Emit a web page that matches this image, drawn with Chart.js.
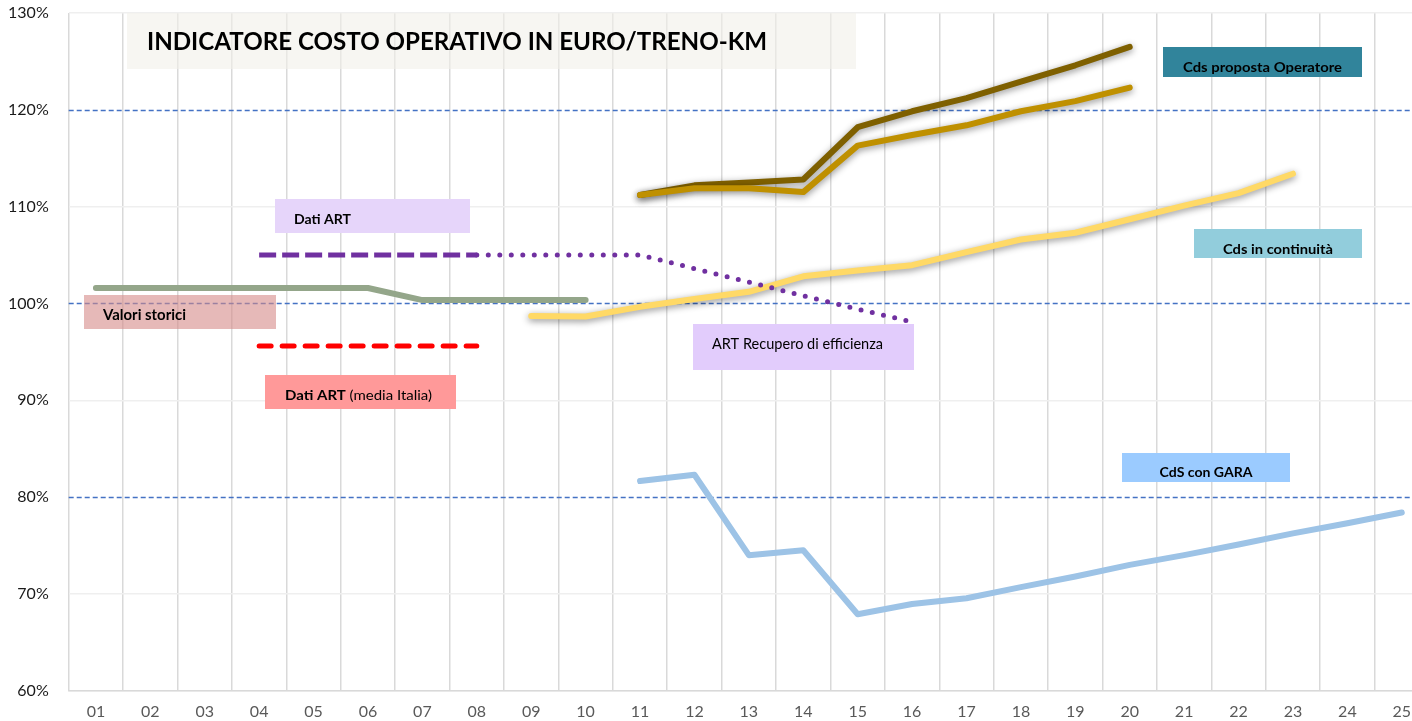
<!DOCTYPE html>
<html lang="it">
<head>
    <meta charset="UTF-8">
    <title>Indicatore costo operativo</title>
    <script src="https://cdn.jsdelivr.net/npm/chart.js"></script>
    <style>
        html, body { margin: 0; padding: 0; background: #fff; overflow: hidden; }
        .chart-box { width: 1429px; height: 721px; }
    </style>
</head>
<body>
    <div class="chart-box">
        <canvas id="costChart"></canvas>
    </div>

    <script>
        // anni (categorie)
        const years = ['01','02','03','04','05','06','07','08','09','10','11','12','13',
                       '14','15','16','17','18','19','20','21','22','23','24','25'];

        // valori in % (null = nessun dato)
        const storici    = [101.6, 101.6, 101.6, 101.6, 101.6, 101.6, 100.35, 100.35, 100.35, 100.35,
                            null, null, null, null, null, null, null, null, null, null, null, null, null, null, null];
        const datiArt    = [null, null, null, 105, 105, 105, 105, 105,
                            null, null, null, null, null, null, null, null, null, null, null, null, null, null, null, null, null];
        const artRecup   = [null, null, null, null, null, null, null, 105, 105, 105, 105, 103.6, 102.2, 100.8, 99.4, 98.1,
                            null, null, null, null, null, null, null, null, null];
        const artMedia   = [null, null, null, 95.6, 95.6, 95.6, 95.6, 95.6,
                            null, null, null, null, null, null, null, null, null, null, null, null, null, null, null, null, null];
        const operatore  = [null, null, null, null, null, null, null, null, null, null,
                            111.2, 112.2, 112.5, 112.8, 118.2, 119.85, 121.2, 122.9, 124.6, 126.5, null, null, null, null, null];
        const operatore2 = [null, null, null, null, null, null, null, null, null, null,
                            111.2, 111.9, 111.9, 111.5, 116.3, 117.4, 118.4, 119.85, 120.9, 122.3, null, null, null, null, null];
        const continuita = [null, null, null, null, null, null, null, null, 98.7, 98.65, 99.65, 100.45, 101.2, 102.8,
                            103.4, 103.95, 105.3, 106.6, 107.3, 108.7, 110.1, 111.4, 113.4, null, null];
        const gara       = [null, null, null, null, null, null, null, null, null, null,
                            81.65, 82.3, 74.0, 74.5, 67.9, 68.95, 69.55, 70.7, 71.8, 73.0, 74.0, 75.1, 76.25, 77.3, 78.4];

        const dashedTicks = [80, 100, 120];

        // riquadri di testo
        const notes = [
            { parts: [['INDICATORE COSTO OPERATIVO IN EURO/TRENO-KM', true]], box: [127, 13, 856, 69], fill: 'rgba(242,240,233,0.6)', tx: 147, ty: 42, w: 620, size: 25 },
            { parts: [['Cds proposta Operatore', true]], box: [1163, 47, 1362, 77], fill: '#31849B', tx: 'center', ty: 67, w: 159, size: 14 },
            { parts: [['Cds in continuità', true]], box: [1194, 229, 1362, 258], fill: '#92CDDC', tx: 'center', ty: 249, w: 110, size: 14 },
            { parts: [['CdS con GARA', true]], box: [1122, 453, 1290, 482], fill: '#9BCBFF', tx: 'center', ty: 472, w: 93, size: 14 },
            { parts: [['Dati ART', true]], box: [275, 199, 470, 233], fill: '#E6D5FA', tx: 294, ty: 219, w: 57, size: 14 },
            { parts: [['Valori storici', true]], box: [84, 295, 276, 329], fill: 'rgba(213,138,137,0.6)', tx: 103, ty: 315, w: 83, size: 15 },
            { parts: [['Dati ART', true], [' (media Italia)', false]], box: [265, 375, 456, 409], fill: '#FF9999', tx: 285, ty: 395, w: 147, size: 14 },
            { parts: [['ART Recupero di efficienza', false]], box: [693, 324, 914, 370], fill: '#E2CCFC', tx: 712, ty: 344, w: 171, size: 15 }
        ];

        const fontName = 'Lato, "Open Sans", sans-serif';

        const notesPlugin = {
            id: 'notes',
            beforeDatasetsDraw(chart) {
                const ctx = chart.ctx;
                const y = chart.scales.y;
                const area = chart.chartArea;

                // linee tratteggiate blu
                ctx.save();
                ctx.strokeStyle = '#4472C4';
                ctx.lineWidth = 1.5;
                ctx.setLineDash([5, 3]);
                dashedTicks.forEach(v => {
                    const py = Math.round(y.getPixelForValue(v)) + 0.5;
                    ctx.beginPath();
                    ctx.moveTo(area.left, py);
                    ctx.lineTo(area.right, py);
                    ctx.stroke();
                });
                ctx.restore();

                notes.forEach(n => {
                    const [x1, y1, x2, y2] = n.box;
                    ctx.save();
                    ctx.fillStyle = n.fill;
                    ctx.fillRect(x1, y1, x2 - x1, y2 - y1);

                    // larghezza naturale del testo, poi compressione orizzontale
                    let total = 0;
                    n.parts.forEach(p => {
                        ctx.font = (p[1] ? 'bold ' : '') + n.size + 'px ' + fontName;
                        total += ctx.measureText(p[0]).width;
                    });
                    const sx = n.w / total;
                    const left = n.tx === 'center' ? (x1 + x2) / 2 - n.w / 2 : n.tx;
                    ctx.translate(left, n.ty);
                    ctx.scale(sx, 1);
                    ctx.fillStyle = '#000';
                    ctx.textBaseline = 'middle';
                    ctx.textAlign = 'left';
                    let x = 0;
                    n.parts.forEach(p => {
                        ctx.font = (p[1] ? 'bold ' : '') + n.size + 'px ' + fontName;
                        ctx.fillText(p[0], x, 0);
                        x += ctx.measureText(p[0]).width;
                    });
                    ctx.restore();
                });
            },
            beforeDatasetDraw(chart, args) {
                const ds = chart.data.datasets[args.index];
                if (ds.shadow) {
                    const ctx = chart.ctx;
                    ctx.save();
                    ctx.shadowColor = 'rgba(0,0,0,0.45)';
                    ctx.shadowBlur = 7;
                    ctx.shadowOffsetX = 0;
                    ctx.shadowOffsetY = 2;
                }
            },
            afterDatasetDraw(chart, args) {
                const ds = chart.data.datasets[args.index];
                if (ds.shadow) chart.ctx.restore();
            }
        };

        function line(label, data, color, width, extra) {
            return Object.assign({
                label, data,
                borderColor: color,
                borderWidth: width,
                pointRadius: 0,
                tension: 0,
                fill: false,
                spanGaps: false,
                borderJoinStyle: 'round',
                borderCapStyle: 'round'
            }, extra || {});
        }

        new Chart(document.getElementById('costChart').getContext('2d'), {
            type: 'line',
            data: {
                labels: years,
                datasets: [
                    line('Valori storici', storici, '#94A68A', 6),
                    line('Dati ART (media Italia)', artMedia, '#FF0000', 5, { borderDash: [12, 11] }),
                    line('Dati ART', datiArt, '#7030A0', 5, { borderDash: [17, 6], borderCapStyle: 'butt' }),
                    line('ART Recupero di efficienza', artRecup, '#7030A0', 5, { borderDash: [0, 11.5] }),
                    line('CdS con GARA', gara, '#9DC3E6', 6),
                    line('Cds in continuità', continuita, '#FFD966', 6, { shadow: true }),
                    line('Cds proposta Operatore (2)', operatore2, '#BF9000', 6, { shadow: true }),
                    line('Cds proposta Operatore', operatore, '#7F6000', 6, { shadow: true })
                ]
            },
            options: {
                responsive: true,
                maintainAspectRatio: false,
                animation: false,
                layout: { padding: { top: 13, left: 0, right: 0, bottom: 0 } },
                plugins: {
                    legend: { display: false },
                    tooltip: { enabled: false }
                },
                scales: {
                    x: {
                        offset: true,
                        grid: { offset: true, color: '#D9D9D9', lineWidth: 1.5, drawTicks: false },
                        border: { display: true, color: '#D9D9D9', width: 1.5 },
                        ticks: {
                            color: '#595959',
                            font: { family: fontName, size: 16 },
                            padding: 12,
                            maxRotation: 0,
                            autoSkip: false
                        },
                        afterFit: s => { s.height = 30.3; s.paddingLeft = 0; s.paddingRight = 0; }
                    },
                    y: {
                        min: 60,
                        max: 130,
                        grid: {
                            color: c => dashedTicks.includes(c.tick.value) ? 'rgba(0,0,0,0)' : '#EFEFEF',
                            lineWidth: 1.5,
                            drawTicks: false
                        },
                        border: { display: false },
                        ticks: {
                            stepSize: 10,
                            padding: 20,
                            color: '#1A1A1A',
                            font: { family: fontName, size: 16 },
                            callback: v => v + '%'
                        },
                        afterFit: s => { s.width = 68.7; s.paddingTop = 0; s.paddingBottom = 0; }
                    }
                }
            },
            plugins: [notesPlugin]
        });
    </script>
</body>
</html>
